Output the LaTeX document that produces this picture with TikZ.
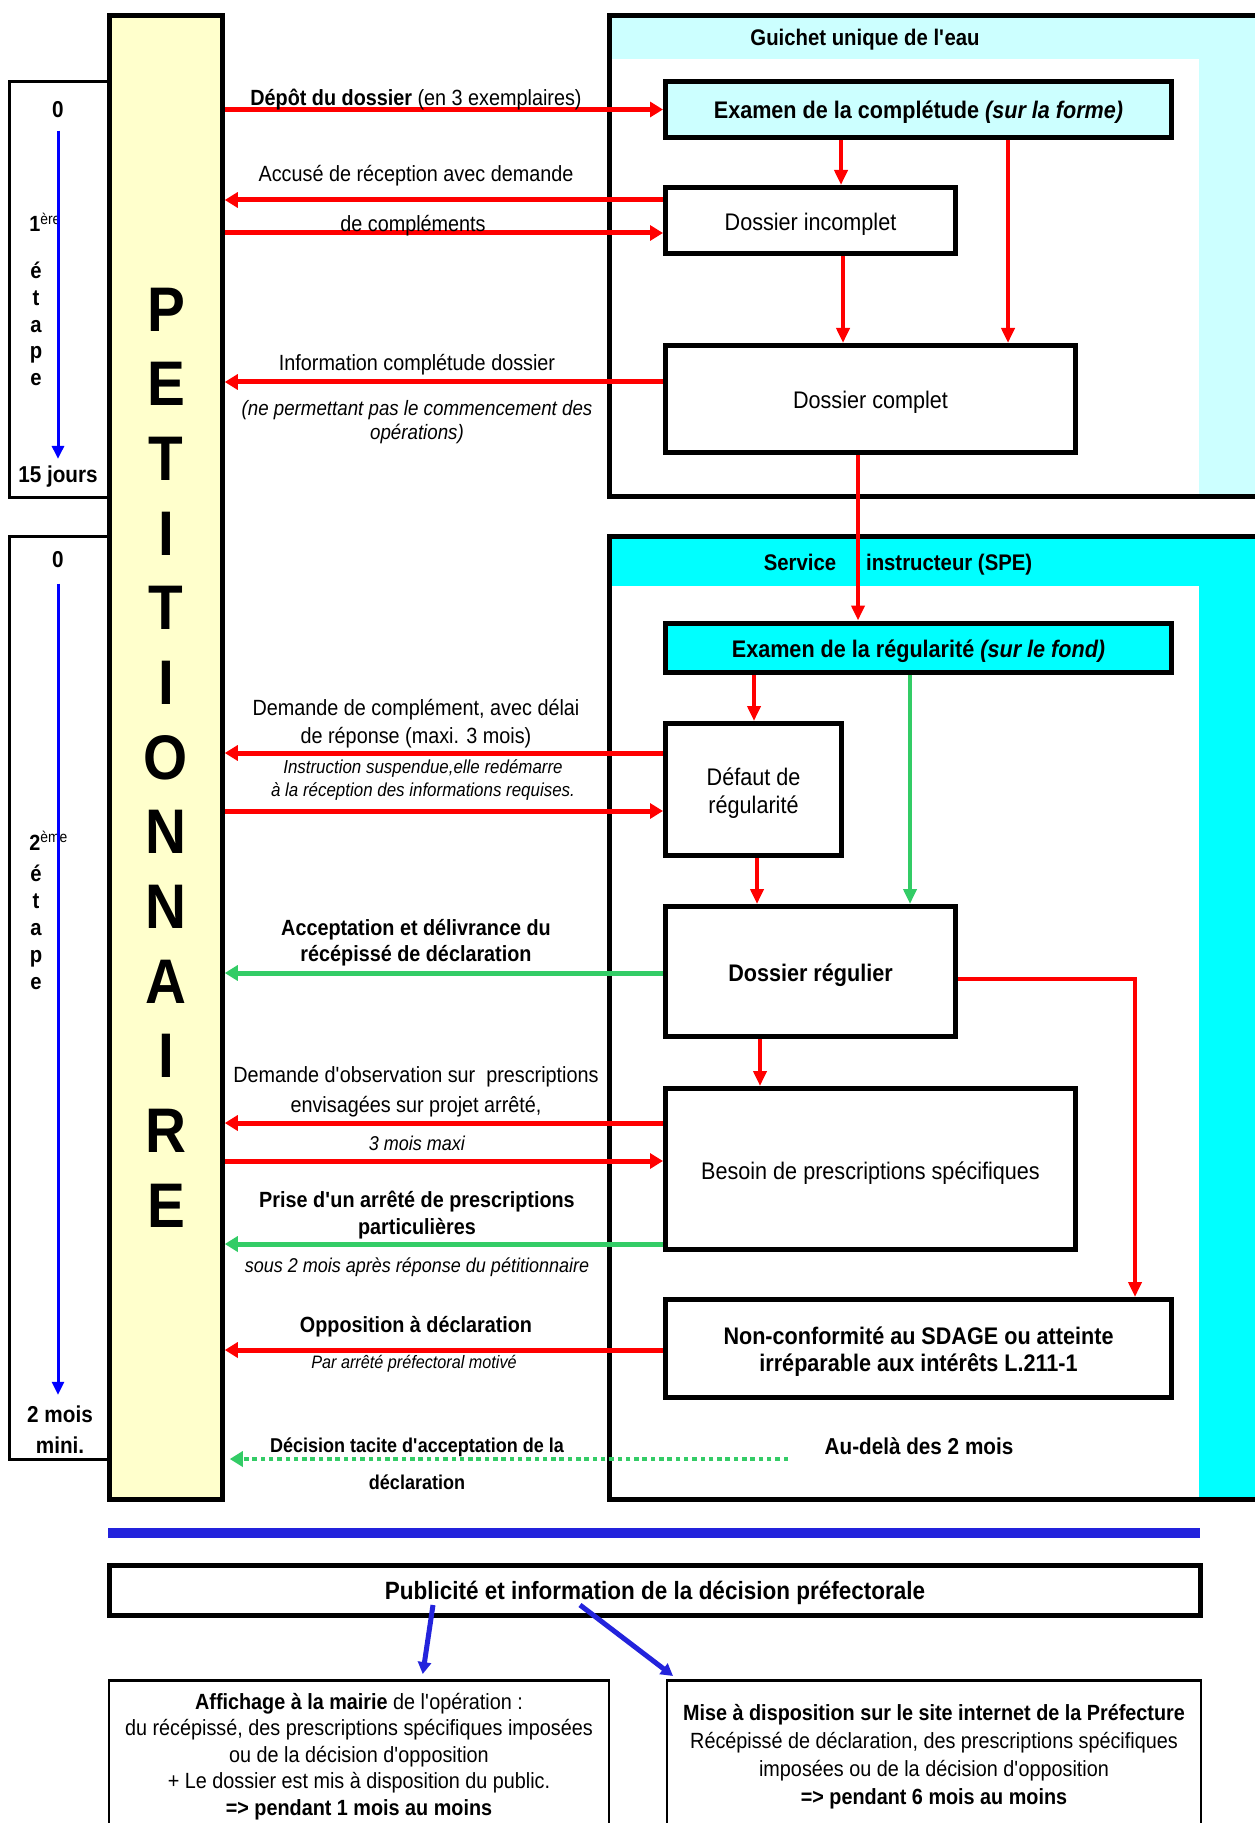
\documentclass[tikz,border=0pt]{standalone}
\usepackage{fontspec}
\setmainfont{Liberation Sans}[FakeStretch=0.9]
\usetikzlibrary{arrows.meta,fit}
\definecolor{lcyan}{HTML}{CCFFFF}
\definecolor{ccyan}{HTML}{00FFFF}
\definecolor{pyellow}{HTML}{FFFFCC}
\definecolor{rred}{HTML}{FF0000}
\definecolor{ggreen}{HTML}{33CC66}
\definecolor{sblue}{HTML}{0000FF}
\definecolor{dblue}{HTML}{2323DC}
\newcommand\fsz[2]{\fontsize{#1}{#2}\selectfont}
\newcommand\apos{\textquotesingle}
\begin{document}
\begin{tikzpicture}[x=0.5pt,y=-0.5pt,
  every node/.style={inner sep=0pt},
  stepbox/.style={draw, line width=1.5pt},
  bx/.style={draw, line width=2.5pt},
  btx/.style={align=center, font=\fsz{12}{14}},
  tx/.style={align=center, font=\fsz{11}{14}},
  rh/.style={rred, line width=2.5pt, -{Triangle[length=6.5pt,width=7.5pt]}},
  rv/.style={rred, line width=2pt, -{Triangle[length=7.5pt,width=6.5pt]}},
  gh/.style={ggreen, line width=2.5pt, -{Triangle[length=6.5pt,width=7.5pt]}},
  gv/.style={ggreen, line width=2pt, -{Triangle[length=7.5pt,width=6.5pt]}},
  bar/.style={sblue, line width=1.5pt, -{Triangle[length=6.5pt,width=6pt]}},
  dbar/.style={dblue, line width=2.5pt, -{Triangle[length=6pt,width=6.5pt]}},
  gdot/.style={ggreen, line width=2.25pt, dash pattern=on 2.25pt off 1.9pt, -{Triangle[length=6.5pt,width=7.5pt]}}
]
\useasboundingbox[fill=white] (0,0) rectangle (1254,1823);

% ---- time scale boxes
\node[stepbox, fit={(9.5,81.5) (109,497.5)}] (s1) {};
\node[stepbox, fit={(9.5,537) (109,1459.5)}] (s2) {};
\node[font=\bfseries\fsz{11.5}{14}] (z1) at (58,110) {0};
\node[font=\bfseries\fsz{11}{14}, anchor=base west] (e1) at (29,232) {1\textsuperscript{\mdseries ère}};
\node[align=center, font=\bfseries\fsz{11.25}{13.4}] (l1) at (36,324) {é\\t\\a\\p\\e};
\node[font=\bfseries\fsz{11.5}{14}] (j1) at (58,477) {15 jours};
\draw[bar, shorten <=6pt, shorten >=3.5pt] (z1.south) -- (z1.south |- j1.north);

\node[font=\bfseries\fsz{11.5}{14}] (z2) at (58,560) {0};
\node[font=\bfseries\fsz{11}{14}, anchor=base west] (e2) at (29,850) {2\textsuperscript{\mdseries ème}};
\node[align=center, font=\bfseries\fsz{11.25}{13.5}] (l2) at (36,927.5) {é\\t\\a\\p\\e};
\node[align=center, font=\bfseries\fsz{11.5}{15.5}] (m2) at (60,1430) {2 mois\\mini.};
\draw[bar, shorten <=7.5pt, shorten >=5.5pt] (z2.south) -- (z2.south |- m2.north);

% ---- petitionnaire
\node[draw, line width=2.25pt, fill=pyellow, minimum width=56.5pt, minimum height=742pt, align=center,
      font=\bfseries\fsz{31.5}{37.33}] (pet) at (166,757.5) {P\\E\\T\\I\\T\\I\\O\\N\\N\\A\\I\\R\\E};

% ---- containers
\node[draw, line width=2.5pt, fill=lcyan, fit={(609,15.5) (1266,496.5)}] (gu) {};
\fill[white] (611.5,59) rectangle (1199,494);
\node[draw, line width=2.5pt, fill=ccyan, fit={(609,536.5) (1266,1499)}] (spe) {};
\fill[white] (611.5,586) rectangle (1199,1496.5);
\node[font=\bfseries\fsz{11.3}{14}] (gut) at (865,40) {Guichet unique de l\apos eau};
\node[font=\bfseries\fsz{11.3}{14}] (spt) at (898,565) {Service\hspace{15pt}instructeur (SPE)};

% ---- process boxes
\node[bx, fill=lcyan, minimum width=253pt, minimum height=28pt] (exa) at (918.5,109.5) {};
\node[btx, font=\bfseries\fsz{12}{14}] (exat) at ([yshift=-1.2pt]exa.center) {Examen de la complétude \textit{(sur la forme)}};
\node[bx, fill=white, minimum width=145pt, minimum height=33pt] (inc) at (810.5,220.5) {};
\node[btx] (inct) at ([yshift=-2pt]inc.center) {Dossier incomplet};
\node[bx, fill=white, minimum width=205pt, minimum height=53.5pt] (cpl) at (870.5,399) {};
\node[btx] (cplt) at ([yshift=-1.8pt]cpl.center) {Dossier complet};
\node[bx, fill=ccyan, minimum width=253pt, minimum height=24.75pt] (reg) at (918.5,647.75) {};
\node[btx, font=\bfseries\fsz{12}{14}] (regt) at ([yshift=-1.6pt]reg.center) {Examen de la régularité \textit{(sur le fond)}};
\node[bx, fill=white, minimum width=88pt, minimum height=66pt] (def) at (753.5,789.5) {};
\node[btx] (deft) at ([yshift=-2pt]def.center) {Défaut de\\régularité};
\node[bx, fill=white, minimum width=145pt, minimum height=65pt] (rgl) at (810.5,971.5) {};
\node[btx, font=\bfseries\fsz{12}{14}] (rglt) at ([yshift=-2pt]rgl.center) {Dossier régulier};
\node[bx, fill=white, minimum width=205pt, minimum height=80.5pt] (bes) at (870.5,1169) {};
\node[btx] (best) at ([yshift=-2pt]bes.center) {Besoin de prescriptions spécifiques};
\node[bx, fill=white, minimum width=253pt, minimum height=49pt] (non) at (918.5,1348.5) {};
\node[btx, font=\bfseries\fsz{12}{13.5}] (nont) at ([yshift=-1.5pt]non.center) {Non-conformité au SDAGE ou atteinte\\irréparable aux intérêts L.211-1};
\node[font=\bfseries\fsz{11.5}{14}] (aud) at (919,1446) {Au-delà des 2 mois};

% ---- connectors inside
\draw[rv] (841,0 |- exa.south) -- (841,0 |- inc.north);
\draw[rv] (843,0 |- inc.south) -- (843,0 |- cpl.north);
\draw[rv] (1008,0 |- exa.south) -- (1008,0 |- cpl.north);
\draw[rv] (858,0 |- cpl.south) -- (858,0 |- reg.north);
\draw[rv] (754,0 |- reg.south) -- (754,0 |- def.north);
\draw[gv] (910,0 |- reg.south) -- (910,0 |- rgl.north);
\draw[rv] (757,0 |- def.south) -- (757,0 |- rgl.north);
\draw[rv] (760,0 |- rgl.south) -- (760,0 |- bes.north);
\draw[rv, line width=2.25pt] (rgl.east |- 0,979) -| (1135,0 |- non.north);

% ---- exchanges with the petitioner
\draw[rh] (pet.east |- exa.west) -- (exa.west);
\draw[rh] (inc.west |- 0,200) -- (pet.east |- 0,200);
\draw[rh] (pet.east |- 0,233) -- (inc.west |- 0,233);
\draw[rh] (cpl.west |- 0,382) -- (pet.east |- 0,382);
\draw[rh] (def.west |- 0,753) -- (pet.east |- 0,753);
\draw[rh] (pet.east |- 0,811) -- (def.west |- 0,811);
\draw[gh] (rgl.west |- 0,973) -- (pet.east |- 0,973);
\draw[rh] (bes.west |- 0,1123) -- (pet.east |- 0,1123);
\draw[rh] (pet.east |- 0,1161) -- (bes.west |- 0,1161);
\draw[gh] (bes.west |- 0,1244) -- (pet.east |- 0,1244);
\draw[rh] (non.west |- 0,1350) -- (pet.east |- 0,1350);
\coordinate (dst) at (788,1459);
\draw[gdot, shorten >=2.5pt] (dst) -- (pet.east |- dst);

% ---- labels
\node[tx] (dep) at (416,100) {\textbf{Dépôt du dossier} (en 3 exemplaires)};
\node[tx] (acc) at (416,176) {Accusé de réception avec demande};
\node[tx] (dcp) at (413,226) {de compléments};
\node[tx] (inf) at (417,365) {Information complétude dossier};
\node[tx, font=\itshape\fsz{10.4}{12}] (nep) at (417,422) {(ne permettant pas le commencement des\\opérations)};
\node[tx, font=\fsz{11}{14}] (dmc) at (416,724) {Demande de complément, avec délai\\de réponse (maxi. 3 mois)};
\node[tx, font=\itshape\fsz{9.4}{11.5}] (ins) at (423,780) {Instruction suspendue,elle redémarre\\à la réception des informations requises.};
\node[tx, font=\bfseries\fsz{11}{13}] (acp) at (416,943) {Acceptation et délivrance du\\récépissé de déclaration};
\node[tx, font=\fsz{11}{15}] (dob) at (416,1092) {Demande d\apos observation sur\ \ prescriptions\\envisagées sur projet arrêté,};
\node[tx, font=\itshape\fsz{10}{12}] (trm) at (417,1143) {3 mois maxi};
\node[tx, font=\bfseries\fsz{11}{13.5}] (pri) at (417,1215) {Prise d\apos un arrêté de prescriptions\\particulières};
\node[tx, font=\itshape\fsz{10}{12}] (sou) at (417,1267) {sous 2 mois après réponse du pétitionnaire};
\node[tx, font=\bfseries\fsz{11}{14}] (opp) at (416,1327) {Opposition à déclaration};
\node[tx, font=\itshape\fsz{9}{11}] (par) at (414,1364) {Par arrêté préfectoral motivé};
\node[tx, font=\bfseries\fsz{10}{12}] (dec) at (417,1447) {Décision tacite d\apos acceptation de la};
\node[tx, font=\bfseries\fsz{10}{12}] (dcl) at (417,1482) {déclaration};

% ---- publicity
\draw[dblue, line width=5pt] (108,1533) -- (1200,1533);
\node[draw, line width=2.5pt, minimum width=545.5pt, minimum height=25pt] (pub) at (655,1590.5) {};
\node[font=\bfseries\fsz{12.5}{14}] (pubt) at ([yshift=-1pt]pub.center) {Publicité et information de la décision préfectorale};
\node[draw, line width=1.25pt, minimum width=250pt, minimum height=76.25pt, align=center, font=\fsz{11}{13.25}] (aff) at (359,1756.5)
  {\textbf{Affichage à la mairie} de l\apos opération :\\du récépissé, des prescriptions spécifiques imposées\\ou de la décision d\apos opposition\\+ Le dossier est mis à disposition du public.\\\textbf{=> pendant 1 mois au moins}};
\node[draw, line width=1.25pt, minimum width=267pt, minimum height=76.25pt, align=center, font=\fsz{11}{14}] (mis) at (934,1756.5)
  {\textbf{Mise à disposition sur le site internet de la Préfecture}\\Récépissé de déclaration, des prescriptions spécifiques\\imposées ou de la décision d\apos opposition\\\textbf{=> pendant 6 mois au moins}};
\coordinate (p1) at (433,1605);
\coordinate (p2) at (580,1605);
\draw[dbar, shorten >=2.5pt] (p1) -- (422,0 |- aff.north);
\draw[dbar, shorten >=2.5pt] (p2) -- (677,0 |- mis.north);
\end{tikzpicture}
\end{document}
